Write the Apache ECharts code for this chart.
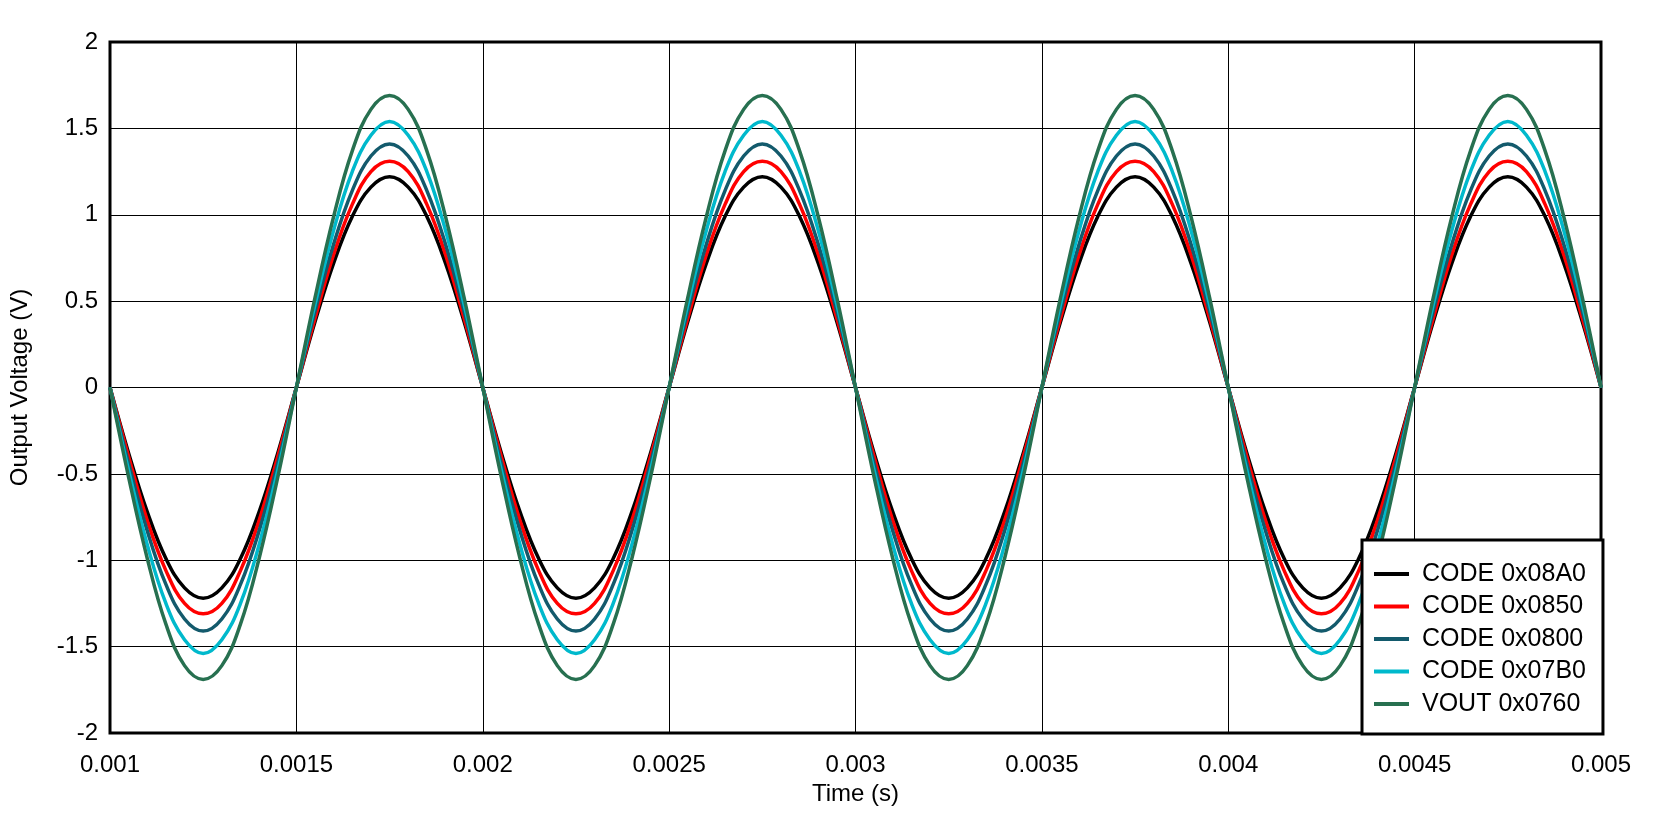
<!DOCTYPE html>
<html>
<head>
<meta charset="utf-8">
<script src="https://cdn.jsdelivr.net/npm/echarts@6/dist/echarts.min.js"></script>
<style>
html,body{margin:0;padding:0;background:#fff;}
#chart{width:1654px;height:823px;}
</style>
</head>
<body>
<div id="chart"></div>
<script>
// Time axis samples (s)
var time = [
 0.001,0.00105,0.0011,0.00115,0.0012,0.00125,0.0013,0.00135,0.0014,0.00145,
 0.0015,0.00155,0.0016,0.00165,0.0017,0.00175,0.0018,0.00185,0.0019,0.00195,
 0.002,0.00205,0.0021,0.00215,0.0022,0.00225,0.0023,0.00235,0.0024,0.00245,
 0.0025,0.00255,0.0026,0.00265,0.0027,0.00275,0.0028,0.00285,0.0029,0.00295,
 0.003,0.00305,0.0031,0.00315,0.0032,0.00325,0.0033,0.00335,0.0034,0.00345,
 0.0035,0.00355,0.0036,0.00365,0.0037,0.00375,0.0038,0.00385,0.0039,0.00395,
 0.004,0.00405,0.0041,0.00415,0.0042,0.00425,0.0043,0.00435,0.0044,0.00445,
 0.0045,0.00455,0.0046,0.00465,0.0047,0.00475,0.0048,0.00485,0.0049,0.00495,
 0.005
];

var seriesNames = ['CODE 0x08A0','CODE 0x0850','CODE 0x0800','CODE 0x07B0','VOUT 0x0760'];

var code08A0 = [
 0,-0.38,-0.72,-0.99,-1.16,-1.22,-1.16,-0.99,-0.72,-0.38,0,0.38,0.72,0.99,1.16,1.22,1.16,0.99,0.72,0.38,
 0,-0.38,-0.72,-0.99,-1.16,-1.22,-1.16,-0.99,-0.72,-0.38,0,0.38,0.72,0.99,1.16,1.22,1.16,0.99,0.72,0.38,
 0,-0.38,-0.72,-0.99,-1.16,-1.22,-1.16,-0.99,-0.72,-0.38,0,0.38,0.72,0.99,1.16,1.22,1.16,0.99,0.72,0.38,
 0,-0.38,-0.72,-0.99,-1.16,-1.22,-1.16,-0.99,-0.72,-0.38,0,0.38,0.72,0.99,1.16,1.22,1.16,0.99,0.72,0.38,
 0
];
var code0850 = [
 0,-0.40,-0.77,-1.06,-1.25,-1.31,-1.25,-1.06,-0.77,-0.40,0,0.40,0.77,1.06,1.25,1.31,1.25,1.06,0.77,0.40,
 0,-0.40,-0.77,-1.06,-1.25,-1.31,-1.25,-1.06,-0.77,-0.40,0,0.40,0.77,1.06,1.25,1.31,1.25,1.06,0.77,0.40,
 0,-0.40,-0.77,-1.06,-1.25,-1.31,-1.25,-1.06,-0.77,-0.40,0,0.40,0.77,1.06,1.25,1.31,1.25,1.06,0.77,0.40,
 0,-0.40,-0.77,-1.06,-1.25,-1.31,-1.25,-1.06,-0.77,-0.40,0,0.40,0.77,1.06,1.25,1.31,1.25,1.06,0.77,0.40,
 0
];
var code0800 = [
 0,-0.44,-0.83,-1.14,-1.34,-1.41,-1.34,-1.14,-0.83,-0.44,0,0.44,0.83,1.14,1.34,1.41,1.34,1.14,0.83,0.44,
 0,-0.44,-0.83,-1.14,-1.34,-1.41,-1.34,-1.14,-0.83,-0.44,0,0.44,0.83,1.14,1.34,1.41,1.34,1.14,0.83,0.44,
 0,-0.44,-0.83,-1.14,-1.34,-1.41,-1.34,-1.14,-0.83,-0.44,0,0.44,0.83,1.14,1.34,1.41,1.34,1.14,0.83,0.44,
 0,-0.44,-0.83,-1.14,-1.34,-1.41,-1.34,-1.14,-0.83,-0.44,0,0.44,0.83,1.14,1.34,1.41,1.34,1.14,0.83,0.44,
 0
];
var code07B0 = [
 0,-0.48,-0.91,-1.25,-1.46,-1.54,-1.46,-1.25,-0.91,-0.48,0,0.48,0.91,1.25,1.46,1.54,1.46,1.25,0.91,0.48,
 0,-0.48,-0.91,-1.25,-1.46,-1.54,-1.46,-1.25,-0.91,-0.48,0,0.48,0.91,1.25,1.46,1.54,1.46,1.25,0.91,0.48,
 0,-0.48,-0.91,-1.25,-1.46,-1.54,-1.46,-1.25,-0.91,-0.48,0,0.48,0.91,1.25,1.46,1.54,1.46,1.25,0.91,0.48,
 0,-0.48,-0.91,-1.25,-1.46,-1.54,-1.46,-1.25,-0.91,-0.48,0,0.48,0.91,1.25,1.46,1.54,1.46,1.25,0.91,0.48,
 0
];
var vout0760 = [
 0,-0.52,-0.99,-1.37,-1.61,-1.69,-1.61,-1.37,-0.99,-0.52,0,0.52,0.99,1.37,1.61,1.69,1.61,1.37,0.99,0.52,
 0,-0.52,-0.99,-1.37,-1.61,-1.69,-1.61,-1.37,-0.99,-0.52,0,0.52,0.99,1.37,1.61,1.69,1.61,1.37,0.99,0.52,
 0,-0.52,-0.99,-1.37,-1.61,-1.69,-1.61,-1.37,-0.99,-0.52,0,0.52,0.99,1.37,1.61,1.69,1.61,1.37,0.99,0.52,
 0,-0.52,-0.99,-1.37,-1.61,-1.69,-1.61,-1.37,-0.99,-0.52,0,0.52,0.99,1.37,1.61,1.69,1.61,1.37,0.99,0.52,
 0
];

var xTickLabels = ['0.001','0.0015','0.002','0.0025','0.003','0.0035','0.004','0.0045','0.005'];
var yTickLabels = ['-2','-1.5','-1','-0.5','0','0.5','1','1.5','2'];

var seriesValues = [code08A0, code0850, code0800, code07B0, vout0760];
var colors = ['#000000','#ff0000','#135a6c','#00b9cc','#277050'];

function pairs(vals){
  var out = [];
  for (var i = 0; i < time.length; i++) out.push([time[i], vals[i]]);
  return out;
}

var FONT = '"Liberation Sans", Arial, sans-serif';

var series = seriesNames.map(function(name, i){
  return {
    name: name,
    type: 'line',
    data: pairs(seriesValues[i]),
    showSymbol: false,
    symbol: 'none',
    smooth: 0.4,
    lineStyle: { color: colors[i], width: 3.5 },
    itemStyle: { color: colors[i] },
    animation: false
  };
});

var chart = echarts.init(document.getElementById('chart'));
chart.setOption({
  animation: false,
  backgroundColor: '#ffffff',
  grid: {
    left: 108, right: 53, top: 42, bottom: 90,
    show: true,
    borderColor: '#000',
    borderWidth: 3,
    backgroundColor: 'transparent'
  },
  legend: {
    data: seriesNames,
    orient: 'vertical',
    left: 1362,
    top: 540,
    backgroundColor: '#ffffff',
    borderColor: '#000',
    borderWidth: 3,
    borderRadius: 0,
    padding: [20, 17, 16, 12],
    itemGap: 4.5,
    itemWidth: 35,
    itemHeight: 4,
    icon: 'rect',
    textStyle: { fontFamily: FONT, fontSize: 25, color: '#000', lineHeight: 28, padding: [0, 0, 0, 8] },
    selectedMode: false
  },
  xAxis: {
    type: 'value',
    min: 0.001,
    max: 0.005,
    interval: 0.0005,
    name: 'Time (s)',
    nameLocation: 'middle',
    nameGap: 47,
    nameTextStyle: { fontFamily: FONT, fontSize: 24, color: '#000', verticalAlign: 'top' },
    axisLine: { show: false },
    axisTick: { show: false },
    axisLabel: {
      fontFamily: FONT, fontSize: 24, color: '#000', margin: 20,
      formatter: function(v, idx){ return xTickLabels[idx] !== undefined ? xTickLabels[idx] : String(v); }
    },
    splitLine: { show: true, lineStyle: { color: '#000', width: 1 } }
  },
  yAxis: {
    type: 'value',
    min: -2,
    max: 2,
    interval: 0.5,
    name: 'Output Voltage (V)',
    nameLocation: 'middle',
    nameGap: 78,
    nameTextStyle: { fontFamily: FONT, fontSize: 24, color: '#000' },
    axisLine: { show: false },
    axisTick: { show: false },
    axisLabel: {
      fontFamily: FONT, fontSize: 24, color: '#000', margin: 12,
      formatter: function(v, idx){ return yTickLabels[idx] !== undefined ? yTickLabels[idx] : String(v); }
    },
    splitLine: { show: true, lineStyle: { color: '#000', width: 1 } }
  },
  series: series
});
</script>
</body>
</html>
